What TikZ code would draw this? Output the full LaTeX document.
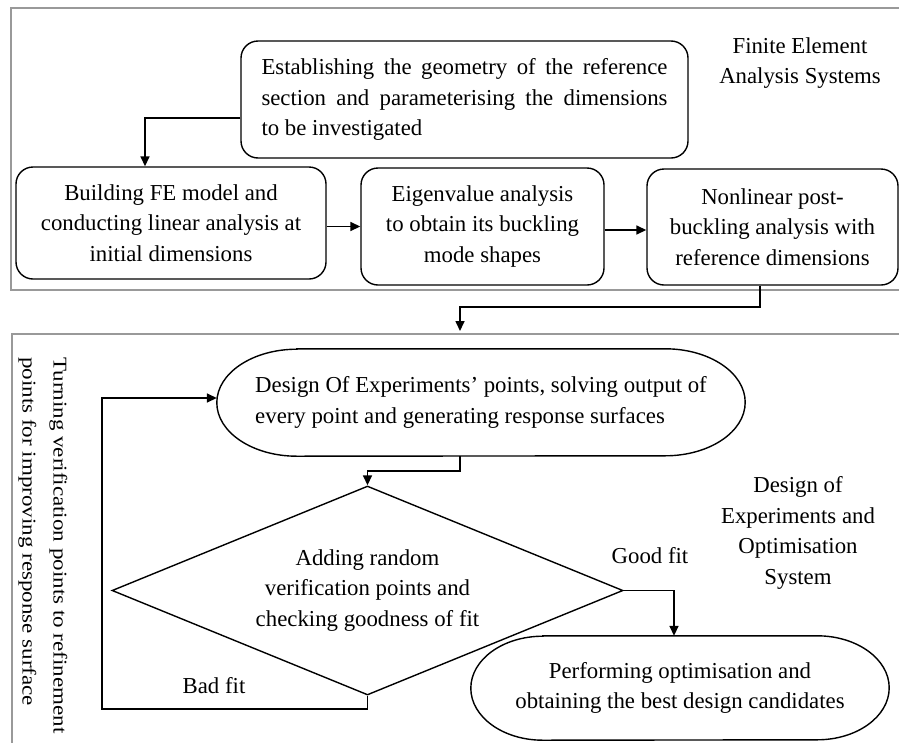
\documentclass[tikz,border=0pt]{standalone}
\usepackage{fontspec}
\setmainfont{Liberation Serif}
\usetikzlibrary{arrows.meta,shapes.geometric,calc}
\begin{document}
\begin{tikzpicture}[x=1pt,y=1pt,
  every node/.style={font=\fontsize{22.8}{30.5}\selectfont, inner sep=0pt},
  panel/.style={draw=black!40, line width=1.6pt},
  rbox/.style={draw, line width=1.4pt, rounded corners=17pt, align=center},
  plain/.style={draw=none, align=center},
  conn/.style={line width=1.6pt, -{Triangle[length=10pt,width=9pt]}},
  shapeline/.style={line width=1.4pt}
]
\useasboundingbox (0,0) rectangle (899,-742);
% panels
\draw[panel] (11,-8) rectangle (910,-290);
\node[panel, anchor=north west, minimum width=900pt, minimum height=420pt] (panel2) at (11,-333) {};
% top boxes
\node[rbox, minimum width=447pt, minimum height=117pt] (box1) at (464.5,-99.5) {%
  \makebox[406pt][s]{Establishing the geometry of the reference}\\
  \makebox[406pt][s]{section and parameterising the dimensions}\\
  \makebox[406pt][l]{to be investigated}};
\node[rbox, minimum width=310pt, minimum height=112pt] (box2) at (171,-223) {Building FE model and\\conducting linear analysis at\\initial dimensions};
\node[rbox, minimum width=243pt, minimum height=117pt] (box3) at (482.5,-226.5) {Eigenvalue analysis\\to obtain its buckling\\mode shapes};
\node[rbox, minimum width=251pt, minimum height=116pt] (box4) at (772.5,-227) {Nonlinear post-\\buckling analysis with\\reference dimensions};
\node[plain] (fea) at (800,-63) {Finite Element\\Analysis Systems};
% top connectors
\draw[conn] ([yshift=-18.5pt]box1.west) -| ([xshift=-26pt]box2.north);
\draw[conn] (box3.west -| box2.east) -- (box3.west);
\draw[conn] ([yshift=-3.5pt]box3.east) -- ([yshift=-3pt]box4.west);
\coordinate (bend1) at (760,-307);
\coordinate (p2top) at (460,-331);
\draw[conn] ([xshift=-12.5pt]box4.south) -- (bend1) -| (p2top);
% bottom: stadium 1
\node[plain, align=left, minimum width=528pt, minimum height=107pt] (s1) at (481,-402.5) {Design Of Experiments’ points, solving output of\\every point and generating response surfaces};
\draw[shapeline] ([xshift=80pt]s1.north west) -- ([xshift=-80pt]s1.north east)
  arc[start angle=90, end angle=-90, x radius=80pt, y radius=53.5pt]
  -- ([xshift=80pt]s1.south west)
  arc[start angle=270, end angle=90, x radius=80pt, y radius=53.5pt] -- cycle;
% diamond
\node[draw, shape=diamond, shapeline, aspect=2.445, minimum width=511pt, minimum height=209pt, align=center] (d) at (367.5,-590.5) {Adding random\\verification points and\\checking goodness of fit};
% stadium 2
\node[plain, minimum width=418pt, minimum height=104pt] (s2) at (680,-688) {Performing optimisation and\\obtaining the best design candidates};
\draw[shapeline] ([xshift=72pt]s2.north west) -- ([xshift=-72pt]s2.north east)
  arc[start angle=90, end angle=-90, x radius=72pt, y radius=52pt]
  -- ([xshift=72pt]s2.south west)
  arc[start angle=270, end angle=90, x radius=72pt, y radius=52pt] -- cycle;
% labels
\node[plain] (doe) at (798,-533) {Design of\\Experiments and\\Optimisation\\System};
\node[plain] (good) at (650,-556) {Good fit};
\node[plain] (bad) at (214,-686) {Bad fit};
\node[plain, align=left, rotate=-90, xscale=1.18, anchor=north west, font=\fontsize{19.5}{31}\selectfont] (turn) at (67.5,-357) {Turning verification points to refinement\\points for improving response surface};
% bottom connectors
\draw[conn] ([xshift=-21pt]s1.south) -- ++(0,-15) -| (d.north);
\draw[conn] (d.east) -| ([xshift=-6pt]s2.north);
\coordinate (loopc) at (102,-709);
\draw[conn] (d.south) |- (loopc) |- ([yshift=4.5pt]s1.west);
\end{tikzpicture}
\end{document}
